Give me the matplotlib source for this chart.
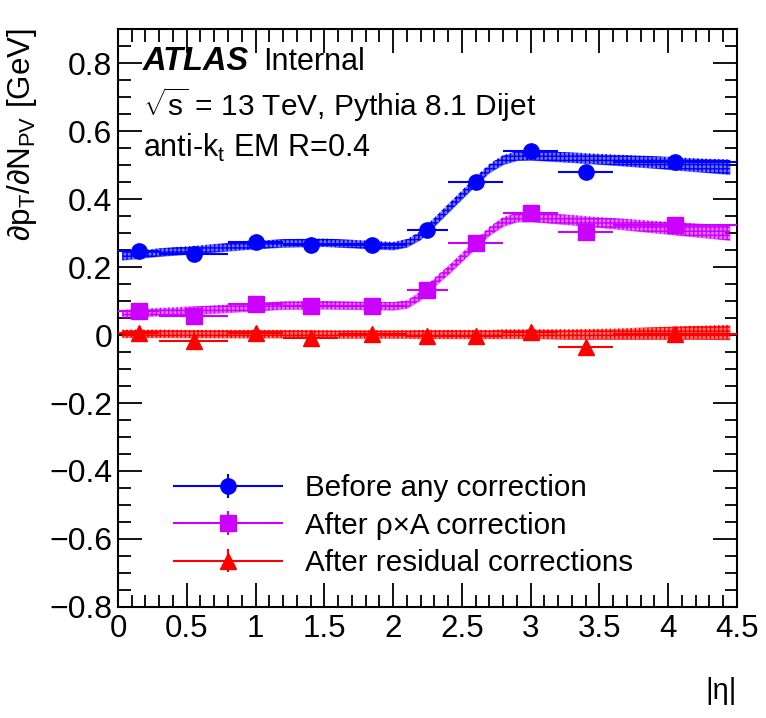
## pileup slope dpT/dNPV vs |eta| for the three correction stages
import matplotlib
matplotlib.use("Agg")
import matplotlib.pyplot as plt
from matplotlib.ticker import MultipleLocator, FuncFormatter
from matplotlib.legend_handler import HandlerErrorbar

plt.rcParams['font.family'] = ['Liberation Sans', 'DejaVu Sans']
plt.rcParams['mathtext.fontset'] = 'custom'
plt.rcParams['mathtext.rm'] = 'Liberation Sans'
plt.rcParams['mathtext.it'] = 'Liberation Sans:italic'
plt.rcParams['mathtext.bf'] = 'Liberation Sans:bold'

# eta bins of the points
eta_center = [0.15, 0.55, 1.0, 1.4, 1.85, 2.25, 2.6, 3.0, 3.4, 4.05]
eta_low = [0.0, 0.3, 0.8, 1.2, 1.6, 2.1, 2.4, 2.8, 3.2, 3.6]
eta_high = [0.3, 0.8, 1.2, 1.6, 2.1, 2.4, 2.8, 3.2, 3.6, 4.5]

# slopes
before = [0.247, 0.237, 0.274, 0.264, 0.266, 0.310, 0.449, 0.541, 0.479, 0.510]
after_rhoA = [0.070, 0.056, 0.090, 0.084, 0.085, 0.133, 0.270, 0.359, 0.302, 0.324]
after_resid = [0.006, -0.018, 0.005, -0.010, 0.002, -0.004, -0.003, 0.008, -0.036, 0.003]
point_err = [0.005, 0.005, 0.005, 0.005, 0.005, 0.005, 0.005, 0.006, 0.006, 0.006]

# fine-binned fit bands (centre values at a few eta nodes)
band_eta = [0.03, 0.3, 0.6, 0.9, 1.2, 1.5, 1.8, 2.0, 2.1, 2.2, 2.3, 2.4, 2.5, 2.6,
            2.7, 2.8, 2.9, 3.0, 3.3, 3.6, 3.9, 4.2, 4.45]
band_before = [0.232, 0.243, 0.252, 0.262, 0.270, 0.272, 0.266, 0.262, 0.270, 0.293,
               0.332, 0.372, 0.412, 0.452, 0.490, 0.515, 0.527, 0.528, 0.522, 0.515,
               0.508, 0.500, 0.494]
band_rhoA = [0.062, 0.068, 0.073, 0.080, 0.087, 0.088, 0.086, 0.085, 0.090, 0.115,
             0.155, 0.190, 0.228, 0.267, 0.305, 0.333, 0.346, 0.347, 0.338, 0.328,
             0.318, 0.308, 0.300]
band_resid = [0.004, 0.004, 0.003, 0.003, 0.003, 0.002, 0.002, 0.002, 0.002, 0.002,
              0.002, 0.002, 0.002, 0.002, 0.002, 0.003, 0.003, 0.003, 0.002, 0.003,
              0.005, 0.007, 0.008]
band_halfwidth = [0.012, 0.012, 0.012, 0.012, 0.012, 0.012, 0.012, 0.012, 0.012, 0.013,
                  0.013, 0.013, 0.013, 0.013, 0.013, 0.014, 0.014, 0.014, 0.015, 0.016,
                  0.018, 0.020, 0.022]

labels = ['Before any correction', 'After ρ×A correction', 'After residual corrections']
colors = ['#0000ff', '#cc00ff', '#ff0000']
markers = ['o', 's', '^']

fig = plt.figure(figsize=(7.66, 7.18), dpi=100)
ax = fig.add_axes([0.154, 0.1546, 0.808, 0.805])

xerr_lo = [c - l for c, l in zip(eta_center, eta_low)]
xerr_hi = [h - c for c, h in zip(eta_center, eta_high)]

handles = []
for vals, band, col, mk, lab in zip([before, after_rhoA, after_resid],
                                    [band_before, band_rhoA, band_resid],
                                    colors, markers, labels):
    lo = [b - w for b, w in zip(band, band_halfwidth)]
    hi = [b + w for b, w in zip(band, band_halfwidth)]
    ax.fill_between(band_eta, lo, hi, color=col, alpha=0.55, lw=0, zorder=2)
    ax.fill_between(band_eta, lo, hi, facecolor='none', edgecolor=col, hatch='++++',
                    lw=0, zorder=2)
    h = ax.errorbar(eta_center, vals, xerr=[xerr_lo, xerr_hi], yerr=point_err,
                    fmt=mk, color=col, ms=11, elinewidth=1.5, capsize=0, zorder=4,
                    label=lab)
    handles.append(h)

ax.set_xlim(0, 4.5)
ax.set_ylim(-0.8, 0.9)

# ROOT-like ticks
ax.xaxis.set_major_locator(MultipleLocator(0.5))
ax.xaxis.set_minor_locator(MultipleLocator(0.1))
ax.yaxis.set_major_locator(MultipleLocator(0.2))
ax.yaxis.set_minor_locator(MultipleLocator(0.05))
fmt = FuncFormatter(lambda v, p: ('%g' % round(v, 3)).replace('-', '\u2212'))
ax.xaxis.set_major_formatter(fmt)
ax.yaxis.set_major_formatter(fmt)
ax.tick_params(which='both', direction='in', top=True, right=True, width=1.3)
ax.tick_params(which='major', length=17)
ax.tick_params(which='minor', length=9)
ax.tick_params(axis='x', labelsize=22.5, pad=5)
ax.tick_params(axis='y', labelsize=23, pad=4)
for s in ax.spines.values():
    s.set_linewidth(1.5)

ax.set_xlabel('|η|', fontsize=21, loc='right', labelpad=24)
fig.text(22 / 766, 1 - 28 / 718, r'∂p$_\mathrm{T}$/∂N$_\mathrm{PV}$ [GeV]',
         rotation=90, ha='center', va='top', fontsize=22.5)

# labels
ax.text(0.040, 0.929, 'ATLAS', transform=ax.transAxes, fontsize=23.5,
        fontweight='bold', fontstyle='italic', va='baseline')
ax.text(0.234, 0.929, 'Internal', transform=ax.transAxes, fontsize=22, va='baseline')
ax.text(0.040, 0.850, r'$\sqrt{\mathrm{s}}$ = 13 TeV, Pythia 8.1 Dijet',
        transform=ax.transAxes, fontsize=21.5, va='baseline')
ax.text(0.040, 0.778, r'anti-k$_\mathrm{t}$ EM R=0.4', transform=ax.transAxes,
        fontsize=22, va='baseline')

leg = ax.legend(handles=handles, loc='upper left', bbox_to_anchor=(0.089, 0.230),
                frameon=False, fontsize=21.3, handlelength=3.7, handletextpad=0.75,
                labelspacing=0.32, borderpad=0, borderaxespad=0,
                handler_map={type(handles[0]): HandlerErrorbar(xerr_size=1.85, yerr_size=0.4)})

fig.savefig('out.png', dpi=100)
